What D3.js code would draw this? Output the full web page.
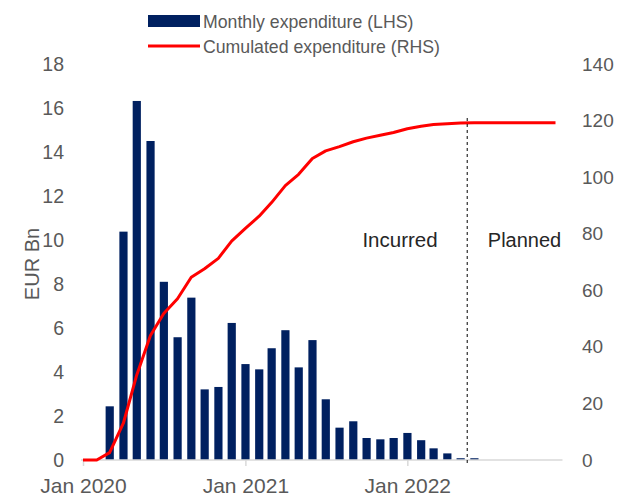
<!DOCTYPE html>
<html>
<head>
<meta charset="utf-8">
<script src="https://cdn.jsdelivr.net/npm/d3@7"></script>
<style>
  body { margin: 0; background: #fff; }
  svg { font-family: "Liberation Sans", Arial, sans-serif; }
</style>
</head>
<body>
<svg id="chart" width="619" height="496"></svg>
<script>
// data, one entry per month from Jan 2020 to Dec 2022
const MONTHS = d3.range(36).map(i => new Date(2020, i, 1))
const MONTHLY = [0, 0, 2.44, 10.38, 16.32, 14.5, 8.1, 5.58, 7.38, 3.21, 3.32, 6.23,
  4.36, 4.12, 5.08, 5.9, 4.21, 5.45, 2.76, 1.47, 1.76, 1.0, 0.94, 1.0,
  1.23, 0.9, 0.53, 0.3, 0.08, 0.08]
const CUMULATED = [0, 0, 2.6, 13.0, 30.0, 44.0, 51.8, 57.0, 64.6, 67.6, 71.3, 77.4,
  81.9, 86.2, 91.0, 97.0, 101.0, 106.6, 109.3, 110.8, 112.5, 113.8, 114.8, 115.8,
  117.1, 118.0, 118.6, 118.9, 119.1, 119.2, 119.2, 119.2, 119.2, 119.2, 119.2, 119.2]
const LEFT_TICKS = d3.range(0, 19, 2)
const RIGHT_TICKS = d3.range(0, 141, 20)
const X_TICKS = [new Date(2020, 0, 1), new Date(2021, 0, 1), new Date(2022, 0, 1)]
const SPLIT_DATE = new Date(2022, 4, 16) // between May and Jun 2022

const BAR_COLOR = '#002060'
const LINE_COLOR = '#ff0000'
const TEXT_COLOR = '#595959'

let svg = d3.select('#chart')

let x = d3.scaleTime()
  .domain([new Date(2020, 0, 1), new Date(2022, 11, 1)])
  .range([83, 555.5])
let yLeft = d3.scaleLinear().domain([0, 18]).range([460, 64])
let yRight = d3.scaleLinear().domain([0, 140]).range([460, 64])

// bars
svg.append('g')
  .selectAll('rect')
  .data(MONTHLY.map((v, i) => ({ date: MONTHS[i], value: v })).filter(d => d.value > 0))
  .enter()
  .append('rect')
  .attr('x', d => x(d.date) - 4)
  .attr('width', 8.2)
  .attr('y', d => yLeft(d.value))
  .attr('height', d => yLeft(0) - yLeft(d.value))
  .attr('fill', BAR_COLOR)

// x axis
let xAxis = svg.append('g')
  .attr('transform', `translate(0, ${yLeft(0)})`)
  .call(d3.axisBottom(x).tickValues(X_TICKS).tickSize(6).tickSizeOuter(0)
    .tickFormat(d3.timeFormat('%b %Y')))
xAxis.select('.domain')
  .attr('d', `M${x(MONTHS[0]) - 2},0H${x(MONTHS[35]) + 7}`)
  .attr('stroke', '#d9d9d9').attr('stroke-width', 1.5)
xAxis.selectAll('.tick line').attr('stroke', '#d9d9d9').attr('stroke-width', 1.5)
xAxis.selectAll('.tick text')
  .attr('fill', TEXT_COLOR).attr('font-size', 21).attr('y', 33).attr('dy', 0)

// left axis
let leftAxis = svg.append('g')
  .attr('transform', 'translate(64, 0)')
  .call(d3.axisLeft(yLeft).tickValues(LEFT_TICKS).tickSize(0).tickPadding(0))
leftAxis.select('.domain').remove()
leftAxis.selectAll('text').attr('fill', TEXT_COLOR).attr('font-size', 19.5)

// right axis
let rightAxis = svg.append('g')
  .attr('transform', 'translate(582, 0)')
  .call(d3.axisRight(yRight).tickValues(RIGHT_TICKS).tickSize(0).tickPadding(0))
rightAxis.select('.domain').remove()
rightAxis.selectAll('text').attr('fill', TEXT_COLOR).attr('font-size', 19)

// y title
svg.append('text')
  .attr('transform', `translate(39, ${yLeft(9) + 2}) rotate(-90)`)
  .attr('text-anchor', 'middle')
  .attr('fill', TEXT_COLOR)
  .attr('font-size', 20)
  .text('EUR Bn')

// cumulated line
let line = d3.line()
  .x((d, i) => x(MONTHS[i]))
  .y(d => yRight(d))
svg.append('path')
  .datum(CUMULATED)
  .attr('d', line)
  .attr('fill', 'none')
  .attr('stroke', LINE_COLOR)
  .attr('stroke-width', 3)
  .attr('stroke-linejoin', 'round')

// split between incurred and planned
svg.append('line')
  .attr('x1', x(SPLIT_DATE)).attr('x2', x(SPLIT_DATE))
  .attr('y1', 118).attr('y2', 464)
  .attr('stroke', '#000').attr('stroke-width', 1)
  .attr('stroke-dasharray', '3,3')

svg.append('text')
  .attr('x', 400).attr('y', 247)
  .attr('text-anchor', 'middle')
  .attr('fill', '#262626').attr('font-size', 20.5)
  .text('Incurred')
svg.append('text')
  .attr('x', 524.5).attr('y', 247)
  .attr('text-anchor', 'middle')
  .attr('fill', '#262626').attr('font-size', 20)
  .text('Planned')

// legend
let legend = svg.append('g')
legend.append('rect')
  .attr('x', 148).attr('y', 15).attr('width', 52).attr('height', 12)
  .attr('fill', BAR_COLOR)
legend.append('line')
  .attr('x1', 148).attr('x2', 200).attr('y1', 46).attr('y2', 46)
  .attr('stroke', LINE_COLOR).attr('stroke-width', 3)
legend.append('text')
  .attr('x', 203).attr('y', 28)
  .attr('fill', TEXT_COLOR).attr('font-size', 17.7)
  .text('Monthly expenditure (LHS)')
legend.append('text')
  .attr('x', 203).attr('y', 53)
  .attr('fill', TEXT_COLOR).attr('font-size', 17.7)
  .text('Cumulated expenditure (RHS)')
</script>
</body>
</html>
